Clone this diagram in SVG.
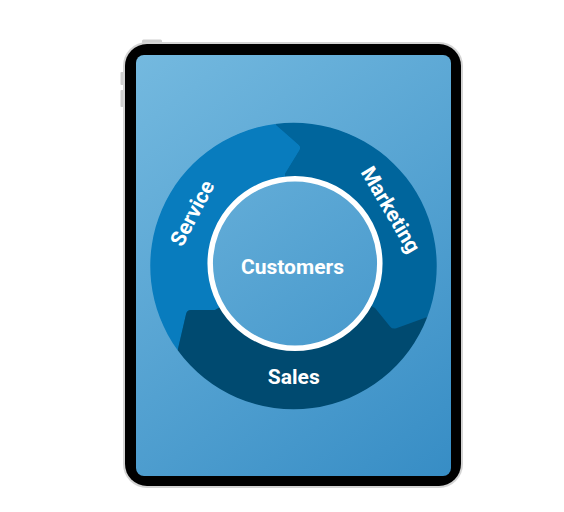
<svg xmlns="http://www.w3.org/2000/svg" width="564" height="512" viewBox="0 0 564 512">
  <defs>
    <linearGradient id="screenGrad" gradientUnits="userSpaceOnUse" x1="136" y1="55" x2="451" y2="476">
      <stop offset="0" stop-color="#74b9df"/>
      <stop offset="1" stop-color="#378dc5"/>
    </linearGradient>
    <style>
      .lbl { font-family: Roboto, "Liberation Sans", Arial, sans-serif; font-weight: 700; font-size: 21px; fill: #ffffff; text-anchor: middle; }
    </style>
  </defs>
  <rect width="564" height="512" fill="#ffffff"/>
  <g id="device">
    <rect x="142" y="39.5" width="20" height="4" rx="1.5" fill="#cfcfcf"/>
    <rect x="120.5" y="72" width="4" height="13" rx="1" fill="#cfcfcf"/>
    <rect x="120.5" y="90" width="4" height="17" rx="1" fill="#cfcfcf"/>
    <rect x="123" y="42" width="340" height="446" rx="24" fill="#d4d4d4"/>
    <rect x="125" y="44" width="336" height="442" rx="22" fill="#000000"/>
    <rect x="136" y="55" width="315" height="421" rx="8" fill="url(#screenGrad)"/>
  </g>
  <circle cx="293.5" cy="266" r="142.5" fill="#00659c"/>
  <g id="service">
    <path d="M177.7,350.3 A143.2 143.2 0 0 1 275.1,124 L298.5,144.4 Q301.5,147 299.4,150.4 L285,174 L293.5,266 L215,310 L191,310 Q187,310 186.1,313.9 Z" fill="#087cbe"/>
    <text class="lbl" transform="translate(192,213) rotate(-62.5)" x="0" y="7.5">Service</text>
  </g>
  <g id="marketing">
    <path d="M275.1,124 A143.2 143.2 0 0 1 427.3,317.1 L396.3,328.2 Q392.5,329.5 390,326.4 L375,308 L293.5,266 L285,174 L299.4,150.4 Q301.5,147 298.5,144.4 Z" fill="#00659c"/>
    <text class="lbl" transform="translate(391,209.5) rotate(59.5)" x="0" y="7.5">Marketing</text>
  </g>
  <g id="sales">
    <path d="M427.3,317.1 A143.2 143.2 0 0 1 177.7,350.3 L186.1,313.9 Q187,310 191,310 L215,310 L293.5,266 L375,308 L390,326.4 Q392.5,329.5 396.3,328.2 Z" fill="#004a70"/>
    <text class="lbl" x="293.8" y="383.5">Sales</text>
  </g>
  <g id="customers">
    <circle cx="295" cy="263.5" r="84.8" fill="url(#screenGrad)" stroke="#ffffff" stroke-width="5.5"/>
    <text class="lbl" x="292.5" y="273.5">Customers</text>
  </g>
</svg>
